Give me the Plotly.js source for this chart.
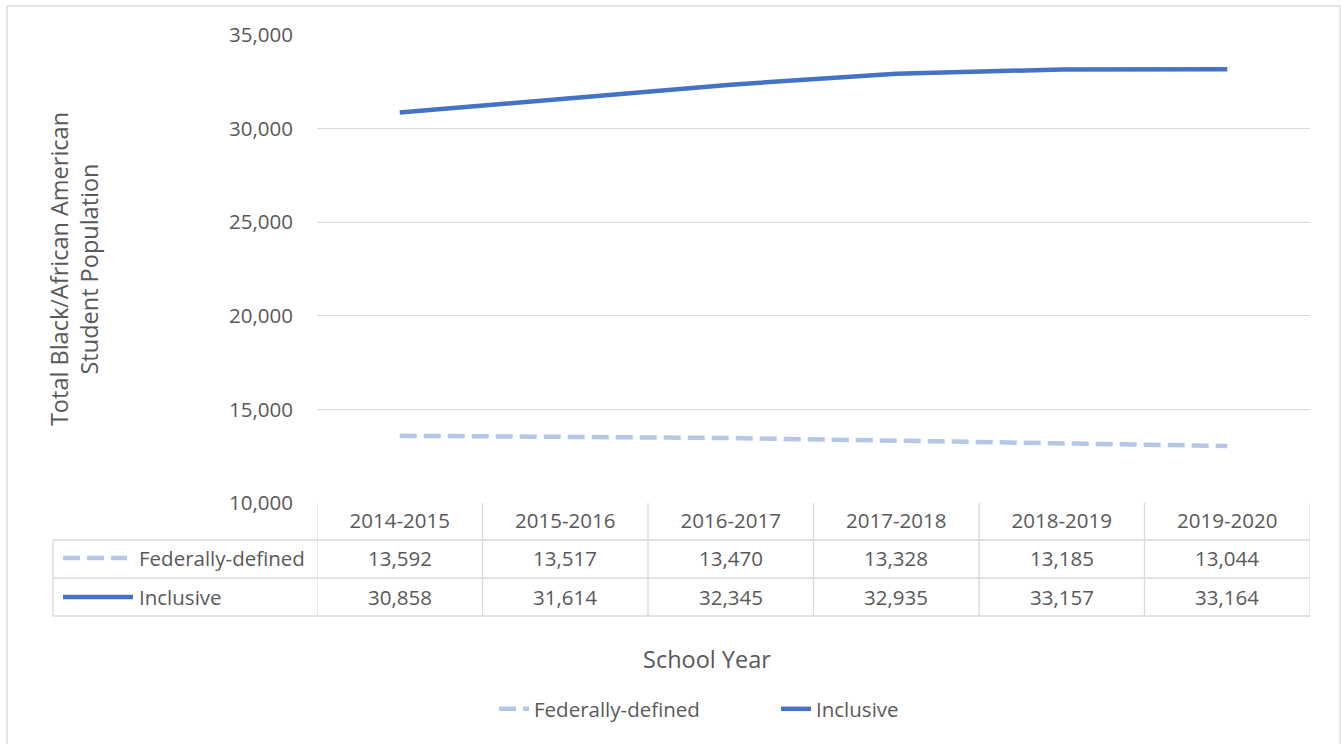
<!DOCTYPE html>
<html><head><meta charset="utf-8">
<script src="https://cdn.plot.ly/plotly-3.0.1.min.js"></script>
<style>html,body{margin:0;padding:0;background:#fff}#chart{width:1341px;height:744px}</style>
</head><body><div id="chart"></div>
<script>
// ---- data ----
const schoolYears = ['2014-2015','2015-2016','2016-2017','2017-2018','2018-2019','2019-2020'];
const federallyDefined = [13592,13517,13470,13328,13185,13044];
const inclusive = [30858,31614,32345,32935,33157,33164];
const seriesNames = ['Federally-defined','Inclusive'];
const yTickValues = [10000,15000,20000,25000,30000,35000];
const yTitle = 'Total Black/African American<br>Student Population';
const xTitle = 'School Year';

// ---- layout helpers ----
const W=1341,H=744,L=317,R=31,T=35,B=241;
const pw=W-L-R, ph=H-T-B;
const px = x => (x-L)/pw;
const py = y => (H-B-y)/ph;
const FONT = '"Open Sans", Lato, sans-serif';
const FS = 20.5;
const TFS = 23.5;
const TXT = '#595959';
const GRID = '#d9d9d9';
const fmt = v => v.toLocaleString('en-US');
const colors = ['#B4C7E7','#4472C4'];

const traces = [
  {x: schoolYears, y: federallyDefined, name: seriesNames[0], type:'scatter', mode:'lines',
   line:{color:colors[0], width:4.5, dash:'17px,7px'}},
  {x: schoolYears, y: inclusive, name: seriesNames[1], type:'scatter', mode:'lines',
   line:{color:colors[1], width:4.5}}
];

const rowsY = [py(558), py(597)];
const seriesData = [federallyDefined, inclusive];
const annotations = [];
seriesData.forEach((arr, r) => {
  arr.forEach((v, i) => {
    annotations.push({xref:'x', yref:'paper', x:i, y:rowsY[r], text:fmt(v), showarrow:false,
      xanchor:'center', yanchor:'middle', font:{family:FONT, size:FS, color:TXT}});
  });
  annotations.push({xref:'paper', yref:'paper', x:px(137), y:rowsY[r], text:seriesNames[r], showarrow:false,
    xanchor:'left', yanchor:'middle', font:{family:FONT, size:FS, color:TXT}});
});
annotations.push({xref:'paper', yref:'paper', x:px(707), y:py(659), text:xTitle, showarrow:false,
  xanchor:'center', yanchor:'middle', font:{family:FONT, size:TFS, color:TXT}});

const shapes = [];
const ln = {color:GRID, width:1.3};
for (let i=0;i<=schoolYears.length;i++){
  shapes.push({type:'line', xref:'x', yref:'paper', x0:i-0.5, x1:i-0.5, y0:py(503), y1:py(616), line:ln});
}
shapes.push({type:'line', xref:'paper', yref:'paper', x0:px(53), x1:px(53), y0:py(540), y1:py(616), line:ln});
[540,578,616].forEach(y => shapes.push({type:'line', xref:'paper', yref:'paper', x0:px(53), x1:1, y0:py(y), y1:py(y), line:ln}));
// legend keys inside table
shapes.push({type:'line', xref:'paper', yref:'paper', x0:px(63), x1:px(127), y0:rowsY[0], y1:rowsY[0],
  line:{color:colors[0], width:4.5, dash:'17px,7px'}});
shapes.push({type:'line', xref:'paper', yref:'paper', x0:px(63), x1:px(133), y0:rowsY[1], y1:rowsY[1],
  line:{color:colors[1], width:4.5}});
// outer chart border
shapes.push({type:'rect', xref:'paper', yref:'paper', x0:px(7), x1:px(1340), y0:py(6), y1:py(760),
  line:{color:GRID, width:1.3}, fillcolor:'rgba(0,0,0,0)'});

const layout = {
  width:W, height:H,
  margin:{l:L, r:R, t:T, b:B},
  paper_bgcolor:'#fff', plot_bgcolor:'#fff',
  font:{family:FONT, size:FS, color:TXT},
  showlegend:true,
  legend:{orientation:'h', x:px(494), xanchor:'left', y:py(709), yanchor:'middle',
    entrywidth:237, entrywidthmode:'pixels',
    font:{family:FONT, size:FS, color:TXT}, bgcolor:'rgba(0,0,0,0)'},
  xaxis:{type:'category', range:[-0.5,5.5], showgrid:false, zeroline:false, showline:false,
    ticks:'', ticklabelstandoff:3, tickfont:{family:FONT, size:FS, color:TXT}, fixedrange:true},
  yaxis:{range:[10000,35000], tickvals:yTickValues, tickformat:',d', showgrid:true, gridcolor:GRID, gridwidth:1.3,
    zeroline:false, showline:false, ticks:'', ticklabelstandoff:23,
    tickfont:{family:FONT, size:FS, color:TXT}, fixedrange:true,
    title:{text:yTitle, standoff:123, font:{family:FONT, size:TFS, color:TXT}}, automargin:true},
  annotations, shapes,
  hovermode:false
};
Plotly.newPlot('chart', traces, layout, {displayModeBar:false, staticPlot:true});
</script></body></html>
